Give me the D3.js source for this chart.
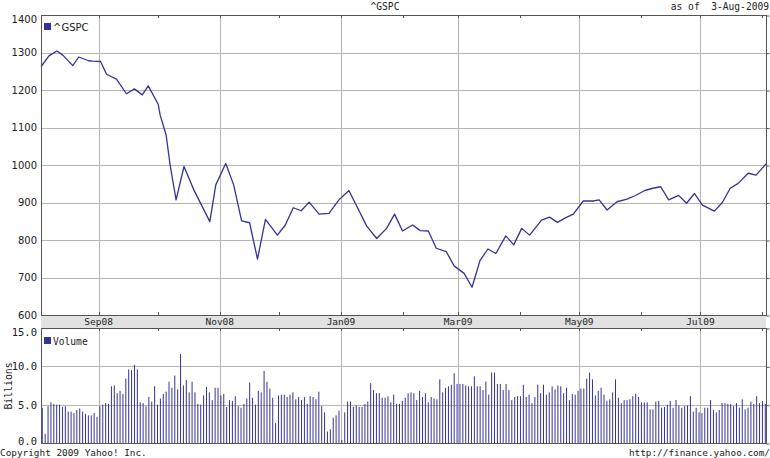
<!DOCTYPE html>
<html>
<head>
<meta charset="utf-8">
<script src="https://cdn.jsdelivr.net/npm/d3@7"></script>
<style>
body { margin: 0; background: #fff; }
svg { display: block; }
.mono { font-family: "DejaVu Sans Mono", monospace; }
.sans { font-family: "DejaVu Sans", Verdana, sans-serif; }
</style>
</head>
<body>
<svg id="chart"></svg>
<script>
var width = 770, height = 458

// weekly-ish closes
var priceDates = [
    "2008-08-03", "2008-08-07", "2008-08-11", "2008-08-14", "2008-08-19", "2008-08-22", "2008-08-27", "2008-08-29",
    "2008-09-02", "2008-09-05", "2008-09-10", "2008-09-15", "2008-09-19", "2008-09-23", "2008-09-26", "2008-10-01",
    "2008-10-02", "2008-10-05", "2008-10-07", "2008-10-10", "2008-10-14", "2008-10-19", "2008-10-27", "2008-10-30",
    "2008-11-04", "2008-11-08", "2008-11-12", "2008-11-16", "2008-11-20", "2008-11-24", "2008-11-30", "2008-12-04",
    "2008-12-08", "2008-12-12", "2008-12-16", "2008-12-21", "2008-12-26", "2008-12-31", "2009-01-05", "2009-01-14",
    "2009-01-19", "2009-01-24", "2009-01-28", "2009-02-01", "2009-02-06", "2009-02-10", "2009-02-14", "2009-02-18",
    "2009-02-23", "2009-02-27", "2009-03-04", "2009-03-08", "2009-03-12", "2009-03-16", "2009-03-20", "2009-03-25",
    "2009-03-29", "2009-04-02", "2009-04-06", "2009-04-12", "2009-04-16", "2009-04-20", "2009-04-24", "2009-04-28",
    "2009-05-03", "2009-05-08", "2009-05-11", "2009-05-15", "2009-05-20", "2009-05-25", "2009-05-29", "2009-06-03",
    "2009-06-07", "2009-06-11", "2009-06-15", "2009-06-20", "2009-06-24", "2009-06-28", "2009-07-02", "2009-07-08",
    "2009-07-12", "2009-07-16", "2009-07-20", "2009-07-25", "2009-07-29", "2009-08-03"
]
var priceClose = [
    1262, 1291, 1304, 1293, 1265, 1288, 1278, 1277,
    1276, 1242, 1229, 1190, 1203, 1187, 1211, 1162,
    1133, 1080, 1000, 907, 996, 933, 849, 947,
    1004, 947, 851, 846, 749, 855, 813, 840,
    886, 878, 901, 869, 871, 907, 932, 837,
    804, 831, 869, 824, 840, 825, 824, 778,
    769, 731, 711, 674, 745, 776, 764, 811,
    787, 831, 813, 853, 861, 847, 859, 869,
    904, 904, 907, 880, 902, 909, 918, 932,
    938, 942, 907, 919, 898, 924, 893, 877,
    900, 938, 951, 978, 973, 1003
]

// daily volume, billions (one bar per trading day, Aug 4 2008 .. Aug 3 2009)
var volume = [
    4.6, 1.2, 4.8, 5.3, 5.1, 5.0, 5.0, 4.7, 4.8, 4.1, 4.1, 3.9, 4.3, 4.5, 4.1, 3.8, 3.6, 3.6, 3.9, 3.4,
    4.8, 5.0, 5.2, 5.1, 7.4, 7.5, 6.5, 6.8, 6.4, 8.4, 9.6, 9.5, 10.2, 9.6, 5.3, 5.2, 4.8, 6.0, 5.4, 7.4,
    5.0, 5.8, 6.4, 6.7, 8.0, 7.2, 8.8, 7.0, 11.6, 7.5, 8.2, 6.6, 8.0, 6.6, 5.1, 5.0, 6.2, 7.3, 6.6, 5.6,
    7.2, 7.2, 6.2, 6.4, 4.7, 5.6, 5.5, 6.1, 4.8, 4.6, 5.1, 5.8, 7.9, 5.9, 5.0, 6.8, 6.6, 9.4,
    8.0, 7.1, 5.9, 2.6, 6.2, 6.3, 6.3, 6.0, 6.3, 6.6, 5.7, 6.0, 5.6, 6.0, 5.1, 6.1, 6.0, 5.7, 6.7, 4.8,
    4.0, 1.5, 1.8, 3.3, 3.6, 4.2, 0.4, 4.0, 5.4, 5.4, 4.7, 4.9, 4.7, 4.7, 5.1, 5.4, 7.8, 6.9, 6.5, 6.5,
    5.9, 5.9, 6.1, 5.3, 6.3, 5.1, 5.1, 5.5, 5.9, 6.5, 6.6, 6.5, 5.6, 6.8, 6.0, 6.5, 5.3, 6.0, 5.8, 5.7,
    8.3, 6.6, 7.2, 7.4, 7.6, 9.1, 7.7, 7.7, 7.7, 7.5, 7.4, 7.4, 8.7, 7.4, 7.4, 6.9, 8.0, 6.3, 9.2, 9.2,
    7.7, 7.7, 6.9, 7.7, 6.9, 5.6, 6.0, 6.1, 6.1,
    7.6, 6.0, 6.3, 5.2, 6.0, 7.6, 6.5, 7.6, 6.3, 6.6, 7.4, 7.0, 7.5, 7.4, 6.5, 7.2, 5.6, 6.4, 6.3, 6.8,
    7.1, 7.1, 8.4, 9.2, 8.3, 6.2, 6.8, 7.2, 6.3, 5.5, 5.7, 6.6, 8.3, 5.9, 5.2, 5.6, 5.6, 5.7, 6.1, 6.4,
    6.0, 5.3, 5.3, 5.3, 4.4, 4.4, 5.4, 5.5, 4.6, 4.7, 5.0, 5.5, 4.6, 5.6, 4.9, 4.6, 4.8, 4.9, 6.1, 4.1,
    4.6, 4.0, 3.9, 4.6, 4.6, 5.6, 4.3, 4.0, 4.3, 5.2, 5.2, 5.1, 5.1, 4.8, 5.2, 4.6, 5.7, 4.4, 4.6, 5.4,
    5.1, 6.1, 5.2, 5.5, 5.1
]

var priceTicks = [600, 700, 800, 900, 1000, 1100, 1200, 1300, 1400]
var volumeTicks = [0, 5, 10, 15]
var monthLabels = ["Sep08", "Nov08", "Jan09", "Mar09", "May09", "Jul09"]
var monthLabelDates = ["2008-09-01", "2008-11-01", "2009-01-01", "2009-03-01", "2009-05-01", "2009-07-01"]

var parse = d3.timeParse("%Y-%m-%d")
var start = parse("2008-08-03"), end = parse("2009-08-03")
var firstBar = parse("2008-08-04")

var left = 41, right = 766
var priceTop = 15, priceBottom = 315, bandBottom = 328, volBottom = 443

var x = d3.scaleTime().domain([start, end]).range([left, right])
var yPrice = d3.scaleLinear().domain([600, 1400]).range([priceBottom, priceTop])
var yVol = d3.scaleLinear().domain([0, 15]).range([volBottom, bandBottom])
var xBar = d3.scaleLinear().domain([0, volume.length - 1]).range([x(firstBar) - 0.7, right - 0.7])

var gridColor = "#b4b4b4", frameColor = "#555", ink = "#333399"
var crisp = function(v) { return Math.round(v) + 0.5 }

var svg = d3.select("#chart")
    .attr("width", width)
    .attr("height", height)

var months = d3.timeMonths(start, end)
var labelled = monthLabelDates.map(parse)

// band behind the month labels
svg.append("rect")
    .attr("x", left).attr("y", priceBottom)
    .attr("width", right - left).attr("height", bandBottom - priceBottom)
    .attr("fill", "#e2e2e2")

// horizontal gridlines
svg.append("g")
    .selectAll("line")
    .data(priceTicks.slice(1, -1))
    .enter().append("line")
    .attr("x1", left).attr("x2", right)
    .attr("y1", function(d) { return crisp(yPrice(d)) })
    .attr("y2", function(d) { return crisp(yPrice(d)) })
    .attr("stroke", gridColor)

svg.append("g")
    .selectAll("line")
    .data(volumeTicks.slice(1, -1))
    .enter().append("line")
    .attr("x1", left).attr("x2", right)
    .attr("y1", function(d) { return crisp(yVol(d)) })
    .attr("y2", function(d) { return crisp(yVol(d)) })
    .attr("stroke", gridColor)

// vertical gridlines at labelled months
var vg = svg.append("g")
labelled.forEach(function(d) {
    var xx = crisp(x(d))
    vg.append("line").attr("x1", xx).attr("x2", xx).attr("y1", priceTop).attr("y2", priceBottom).attr("stroke", gridColor)
    vg.append("line").attr("x1", xx).attr("x2", xx).attr("y1", bandBottom).attr("y2", volBottom).attr("stroke", gridColor)
})

// volume bars
svg.append("g")
    .selectAll("line")
    .data(volume)
    .enter().append("line")
    .attr("x1", function(d, i) { return xBar(i) })
    .attr("x2", function(d, i) { return xBar(i) })
    .attr("y1", yVol(0))
    .attr("y2", function(d) { return yVol(d) })
    .attr("stroke", ink)
    .attr("stroke-width", 1)

// price line
var line = d3.line()
    .x(function(d, i) { return x(parse(priceDates[i])) })
    .y(function(d) { return yPrice(d) })

svg.append("path")
    .datum(priceClose)
    .attr("d", line)
    .attr("fill", "none")
    .attr("stroke", ink)
    .attr("stroke-width", 1.3)
    .attr("stroke-linejoin", "round")

// frames
svg.append("rect")
    .attr("x", left + 0.5).attr("y", priceTop + 0.5)
    .attr("width", right - left).attr("height", priceBottom - priceTop)
    .attr("fill", "none").attr("stroke", frameColor)
svg.append("rect")
    .attr("x", left + 0.5).attr("y", bandBottom + 0.5)
    .attr("width", right - left).attr("height", volBottom - bandBottom)
    .attr("fill", "none").attr("stroke", frameColor)

// small month ticks on the frames
var tk = svg.append("g").attr("stroke", frameColor)
months.forEach(function(d) {
    var xx = crisp(x(d))
    tk.append("line").attr("x1", xx).attr("x2", xx).attr("y1", priceTop).attr("y2", priceTop + 3)
    tk.append("line").attr("x1", xx).attr("x2", xx).attr("y1", priceBottom - 3).attr("y2", priceBottom)
    tk.append("line").attr("x1", xx).attr("x2", xx).attr("y1", bandBottom).attr("y2", bandBottom + 3)
})

// right-side ticks
svg.append("g")
    .attr("transform", "translate(" + (right + 0.5) + ",0.5)")
    .call(d3.axisRight(yPrice).tickValues(priceTicks).tickSize(3).tickFormat(""))
    .call(function(g) { g.select(".domain").remove() })
    .selectAll("line").attr("stroke", frameColor)
svg.append("g")
    .attr("transform", "translate(" + (right + 0.5) + ",0.5)")
    .call(d3.axisRight(yVol).tickValues(volumeTicks).tickSize(3).tickFormat(""))
    .call(function(g) { g.select(".domain").remove() })
    .selectAll("line").attr("stroke", frameColor)

// left axis labels
var pAxis = svg.append("g")
    .attr("transform", "translate(" + left + ",0)")
    .call(d3.axisLeft(yPrice).tickValues(priceTicks).tickSize(0).tickPadding(4).tickFormat(d3.format("d")))
pAxis.select(".domain").remove()
pAxis.selectAll("text")
    .attr("font-size", 10).attr("fill", "#222")
    .attr("font-family", "DejaVu Sans, sans-serif")
    .attr("dy", function(d) { return d == 1400 ? "0.7em" : "0.32em" })

var vAxis = svg.append("g")
    .attr("transform", "translate(" + left + ",0)")
    .call(d3.axisLeft(yVol).tickValues(volumeTicks).tickSize(0).tickPadding(4).tickFormat(d3.format(".1f")))
vAxis.select(".domain").remove()
vAxis.selectAll("text")
    .attr("font-size", 10.5).attr("fill", "#222")
    .attr("font-family", "DejaVu Sans Mono, monospace")
    .attr("dy", function(d) { return d == 15 ? "0.75em" : d == 0 ? "0.1em" : "0.32em" })

// month labels in the band
svg.append("g")
    .selectAll("text")
    .data(monthLabels)
    .enter().append("text")
    .attr("class", "mono")
    .attr("x", function(d, i) { return x(labelled[i]) })
    .attr("y", 325)
    .attr("text-anchor", "middle")
    .attr("font-size", 9.5)
    .attr("fill", "#222")
    .text(function(d) { return d })

// legends
svg.append("rect").attr("x", 44).attr("y", 23).attr("width", 7).attr("height", 7).attr("fill", ink)
svg.append("text").attr("class", "sans").attr("x", 53).attr("y", 31)
    .attr("font-size", 10).attr("fill", "#222").text("^GSPC")
svg.append("rect").attr("x", 44).attr("y", 337).attr("width", 7).attr("height", 7).attr("fill", ink)
svg.append("text").attr("class", "mono").attr("x", 53).attr("y", 345)
    .attr("font-size", 9.6).attr("fill", "#222").text("Volume")

// titles and footer
svg.append("text").attr("class", "mono").attr("x", 385).attr("y", 10)
    .attr("text-anchor", "middle").attr("font-size", 9.6).attr("fill", "#222").text("^GSPC")
svg.append("text").attr("class", "mono").attr("x", 769).attr("y", 10)
    .attr("text-anchor", "end").attr("font-size", 9.6).attr("fill", "#222")
    .attr("xml:space", "preserve").style("white-space", "pre").text("as of  3-Aug-2009")
svg.append("text").attr("class", "mono")
    .attr("transform", "translate(12,386) rotate(-90)")
    .attr("text-anchor", "middle").attr("font-size", 9.8).attr("fill", "#222").text("Billions")
svg.append("text").attr("class", "mono").attr("x", 0).attr("y", 456)
    .attr("font-size", 9.4).attr("fill", "#222").text("Copyright 2009 Yahoo! Inc.")
svg.append("text").attr("class", "mono").attr("x", 770).attr("y", 456)
    .attr("text-anchor", "end").attr("font-size", 9.4).attr("fill", "#222").text("http://finance.yahoo.com/")
</script>
</body>
</html>
